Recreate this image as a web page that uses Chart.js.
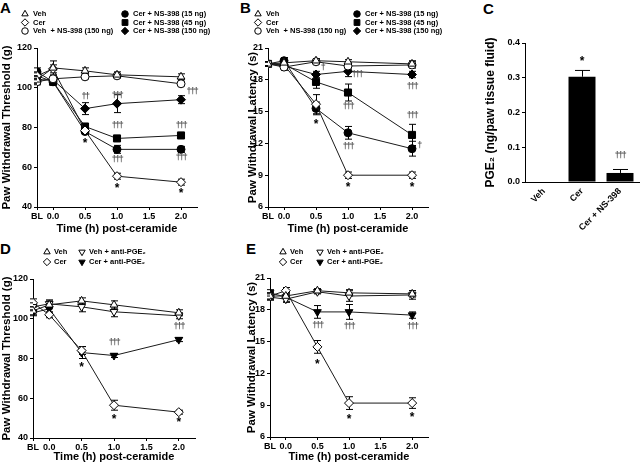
<!DOCTYPE html>
<html>
<head>
<meta charset="utf-8">
<script src="https://cdn.jsdelivr.net/npm/chart.js@4.4.0/dist/chart.umd.min.js"></script>
<style>
  body { margin: 0; width: 640px; height: 464px; background: #fff; position: relative; overflow: hidden;
         font-family: "Liberation Sans", Arial, sans-serif; }
  canvas { position: absolute; }
  .letter { position: absolute; font-weight: bold; font-size: 15px; line-height: 15px; color: #000; }
</style>
</head>
<body>
<div class="letter" style="left:0px;top:0px">A</div>
<div class="letter" style="left:240px;top:0px">B</div>
<div class="letter" style="left:483px;top:1px">C</div>
<div class="letter" style="left:0px;top:241px">D</div>
<div class="letter" style="left:246px;top:241px">E</div>

<canvas id="chartA" width="212" height="240" style="left:0px;top:0px"></canvas>
<canvas id="chartB" width="238" height="240" style="left:210px;top:0px"></canvas>
<canvas id="chartC" width="190" height="240" style="left:450px;top:0px"></canvas>
<canvas id="chartD" width="212" height="232" style="left:0px;top:232px"></canvas>
<canvas id="chartE" width="230" height="232" style="left:210px;top:232px"></canvas>

<script>
// time axis (BL = baseline, drawn just left of 0.0)
const timeTicks = [-0.25, 0, 0.5, 1, 1.5, 2];
const timeLabels = ['BL', '0.0', '0.5', '1.0', '1.5', '2.0'];
const timePoints = [-0.25, 0, 0.5, 1, 2];

// Panel A - paw withdrawal threshold (g), NS-398
const aVeh = [104, 110, 108.5, 106.5, 105.5];
const aVehSem = [2, 3.5, 1.5, 1.5, 1.5];
const aCer = [106, 109.5, 78.5, 55.5, 52.5];
const aCerSem = [2, 2, 1.5, 1.5, 1.5];
const aVehNS = [103, 104.5, 105.5, 106, 102];
const aVehNSSem = [1.5, 1.5, 1, 1, 1];
const aCerNS15 = [108, 103, 78, 69, 69];
const aCerNS15Sem = [2, 1.5, 1.5, 2, 1.5];
const aCerNS45 = [106, 103, 80.5, 74.5, 76];
const aCerNS45Sem = [1.5, 1.5, 1.5, 1, 1];
const aCerNS150 = [104, 104, 89.5, 92, 94];
const aCerNS150Sem = [1.5, 1.5, 3, 4.5, 2];
const aMarks = [[0.5, 95.5, '††'], [1.0, 96, '†††'], [2.17, 98, '†††'], [1.0, 81, '†††'], [2.0, 81, '†††'],
                [0.5, 73.5, '*'], [1.0, 64, '†††'], [2.0, 65, '†††'], [1.0, 50.5, '*'], [2.0, 48, '*']];

// Panel B - paw withdrawal latency (s), NS-398
const bVeh = [19.5, 19.6, 19.8, 19.7, 19.5];
const bVehSem = [0.2, 0.2, 0.2, 0.2, 0.3];
const bCer = [19.5, 19.4, 15.7, 9.0, 9.0];
const bCerSem = [0.2, 0.3, 0.9, 0.3, 0.3];
const bVehNS = [19.5, 19.2, 19.7, 19.3, 19.4];
const bVehNSSem = [0.2, 0.3, 0.2, 0.3, 0.3];
const bCerNS15 = [19.5, 19.8, 15.3, 13.0, 11.5];
const bCerNS15Sem = [0.2, 0.3, 0.6, 0.6, 0.7];
const bCerNS45 = [19.5, 19.5, 17.8, 16.8, 12.8];
const bCerNS45Sem = [0.2, 0.3, 0.6, 0.8, 1.0];
const bCerNS150 = [19.5, 19.3, 18.5, 18.8, 18.5];
const bCerNS150Sem = [0.2, 0.3, 0.3, 0.5, 0.3];
const bMarks = [[0.6, 19.2, '†'], [1.14, 18.5, '†††'], [2.0, 17.4, '†††'], [0.5, 14, '*'], [1.0, 15.5, '†††'],
                [1.0, 11.7, '†††'], [2.0, 14.6, '†††'], [2.11, 11.8, '†'], [1.0, 8.1, '*'], [2.0, 8.1, '*']];

// Panel C - PGE2 in paw tissue fluid
const cCats = ['Veh', 'Cer', 'Cer + NS-398'];
const cValues = [0, 0.303, 0.026];
const cSem = [0, 0.018, 0.01];
const cMarks = [[1, 0.355, '*'], [2, 0.075, '†††']];

// Panel D - threshold (g), anti-PGE2
const dVeh = [104, 107, 109, 107, 103];
const dVehSem = [2, 2, 1.5, 2, 1.5];
const dCer = [108, 102, 84, 56.5, 53];
const dCerSem = [2, 1.5, 2, 2.5, 1];
const dVehAnti = [106, 107.5, 106, 103.5, 101.5];
const dVehAntiSem = [2, 2, 2.5, 2.5, 1.5];
const dCerAnti = [103, 105, 83, 81.5, 89.5];
const dCerAntiSem = [1.5, 2, 3, 1, 1];
const dMarks = [[0.5, 77, '*'], [1.0, 88, '†††'], [2.0, 96, '†††'], [1.0, 50.5, '*'], [2.0, 49, '*']];

// Panel E - latency (s), anti-PGE2
const eVeh = [19.3, 19.3, 19.8, 19.6, 19.5];
const eVehSem = [0.3, 0.3, 0.2, 0.3, 0.3];
const eCer = [19.3, 19.8, 14.5, 9.2, 9.2];
const eCerSem = [0.3, 0.3, 0.6, 0.6, 0.5];
const eVehAnti = [19.2, 19.0, 19.7, 19.3, 19.4];
const eVehAntiSem = [0.3, 0.3, 0.2, 0.5, 0.4];
const eCerAnti = [19.6, 19.2, 17.8, 17.8, 17.5];
const eCerAntiSem = [0.3, 0.4, 0.6, 0.7, 0.3];
const eMarks = [[0.5, 16.5, '†††'], [1.0, 16.4, '†††'], [2.0, 16.4, '†††'], [0.5, 13.1, '*'], [1.0, 7.9, '*'], [2.0, 8.1, '*']];

const FONT = '"Liberation Sans", Arial, Helvetica, sans-serif';
const bold = size => ({ family: FONT, size: size, weight: 'bold' });

const SHAPES = {
  tri: { style: 'triangle', rot: 0, r: 4.5 },
  triDown: { style: 'triangle', rot: 180, r: 4.5 },
  dia: { style: 'rectRot', rot: 0, r: 4.5 },
  circ: { style: 'circle', rot: 0, r: 4 },
  sq: { style: 'rect', rot: 0, r: 5 }
};

function line(label, values, sem, shape, filled, col, row) {
  const s = SHAPES[shape];
  return {
    label: label,
    data: values.map((v, i) => ({ x: timePoints[i], y: v })),
    sem: sem,
    pointStyle: s.style, pointRotation: s.rot, pointRadius: s.r,
    pointBackgroundColor: filled ? '#000' : '#fff',
    pointBorderColor: '#000', pointBorderWidth: 1,
    borderColor: '#1a1a1a', borderWidth: 1, tension: 0,
    legendCol: col, legendRow: row
  };
}

function drawErrorBars(chart) {
  const ctx = chart.ctx;
  const ys = chart.scales.y;
  const isBar = chart.config.type === 'bar';
  ctx.save();
  ctx.strokeStyle = '#000';
  ctx.lineWidth = 1;
  chart.data.datasets.forEach((ds, di) => {
    if (!ds.sem) return;
    const meta = chart.getDatasetMeta(di);
    meta.data.forEach((el, i) => {
      const s = ds.sem[i];
      if (!s) return;
      const v = isBar ? ds.data[i] : ds.data[i].y;
      const x = Math.round(el.x) + 0.5;
      const top = ys.getPixelForValue(v + s);
      const bot = isBar ? ys.getPixelForValue(v) : ys.getPixelForValue(v - s);
      const cap = isBar ? 7.5 : 3.5;
      ctx.beginPath();
      ctx.moveTo(x, top); ctx.lineTo(x, bot);
      ctx.moveTo(x - cap, top); ctx.lineTo(x + cap, top);
      if (!isBar) { ctx.moveTo(x - cap, bot); ctx.lineTo(x + cap, bot); }
      ctx.stroke();
    });
  });
  ctx.restore();
}

const extras = {
  id: 'extras',
  beforeDatasetsDraw(chart) {
    if (chart.config.type !== 'bar') drawErrorBars(chart);
  },
  afterDatasetsDraw(chart) {
    if (chart.config.type === 'bar') drawErrorBars(chart);
  },
  afterDraw(chart, args, opts) {
    const ctx = chart.ctx;
    ctx.save();
    // legend
    if (opts.cols) {
      chart.data.datasets.forEach(ds => {
        if (ds.legendCol === undefined) return;
        const x = opts.cols[ds.legendCol], y = opts.rows[ds.legendRow];
        ctx.fillStyle = ds.pointBackgroundColor;
        ctx.strokeStyle = '#000';
        ctx.lineWidth = 1;
        Chart.helpers.drawPoint(ctx, { pointStyle: ds.pointStyle, rotation: ds.pointRotation,
          radius: ds.pointRadius * 0.82, borderWidth: 1 }, x, y);
        ctx.fillStyle = '#000';
        ctx.font = 'bold 7.5px ' + FONT;
        ctx.textAlign = 'left';
        ctx.textBaseline = 'middle';
        ctx.fillText(ds.label, x + opts.gap, y);
      });
    }
    // significance marks
    (opts.marks || []).forEach(m => {
      const px = chart.scales.x.getPixelForValue(m[0]);
      const py = chart.scales.y.getPixelForValue(m[1]);
      ctx.textAlign = 'center';
      ctx.textBaseline = 'middle';
      if (m[2] === '*') {
        ctx.font = 'bold 12px ' + FONT;
        ctx.fillStyle = '#000';
        ctx.letterSpacing = '0px';
        ctx.fillText('*', px, py + 2.8);
      } else {
        ctx.font = 'bold 9px ' + FONT;
        ctx.fillStyle = '#555';
        ctx.letterSpacing = '-1.5px';
        ctx.fillText(m[2], px, py);
      }
    });
    ctx.restore();
  }
};

function timeScales(p) {
  return {
    x: {
      type: 'linear', min: -0.25, max: 2.25,
      afterBuildTicks: s => { s.ticks = timeTicks.map(v => ({ value: v })); },
      ticks: { autoSkip: false, maxRotation: 0, padding: 1, color: '#000', font: bold(9),
               callback: v => timeLabels[timeTicks.indexOf(v)] },
      grid: { drawOnChartArea: false, tickLength: 3, color: '#000' },
      border: { color: '#000', width: 1 },
      title: { display: true, text: 'Time (h) post-ceramide', color: '#000', font: bold(11),
               padding: { top: 0, bottom: p.xTitlePad } },
      afterFit: s => { s.height = p.xHeight; }
    },
    y: {
      min: p.yMin, max: p.yMax,
      ticks: { stepSize: p.yStep, padding: 2, color: '#000', font: bold(9) },
      grid: { drawOnChartArea: false, tickLength: 3, color: '#000' },
      border: { color: '#000', width: 1 },
      title: { display: true, text: p.yTitle, color: '#000', font: bold(11.5),
               padding: { top: p.yTitlePad, bottom: 0 } },
      afterFit: s => { s.width = p.yWidth; }
    }
  };
}

function lineChart(id, datasets, p, legend, marks) {
  return new Chart(document.getElementById(id), {
    type: 'line',
    data: { datasets: datasets },
    options: {
      responsive: false, animation: false, events: [],
      layout: { padding: { top: p.top, right: p.right, bottom: 0, left: 0 } },
      scales: timeScales(p),
      plugins: {
        legend: { display: false }, tooltip: { enabled: false },
        extras: { cols: legend.cols, rows: legend.rows, gap: legend.gap, marks: marks }
      }
    },
    plugins: [extras]
  });
}

// A
lineChart('chartA', [
  line('Veh', aVeh, aVehSem, 'tri', false, 0, 0),
  line('Veh  + NS-398 (150 ng)', aVehNS, aVehNSSem, 'circ', false, 0, 2),
  line('Cer', aCer, aCerSem, 'dia', false, 0, 1),
  line('Cer + NS-398 (150 ng)', aCerNS150, aCerNS150Sem, 'dia', true, 1, 2),
  line('Cer + NS-398 (45 ng)', aCerNS45, aCerNS45Sem, 'sq', true, 1, 1),
  line('Cer + NS-398 (15 ng)', aCerNS15, aCerNS15Sem, 'circ', true, 1, 0)
], { top: 48, right: 15, yWidth: 37, yTitlePad: 0, xHeight: 33, xTitlePad: 4,
     yMin: 40, yMax: 120, yStep: 20, yTitle: 'Paw Withdrawal Threshold (g)' },
   { cols: [25, 125], rows: [14, 22.5, 31], gap: 8 }, aMarks);

// B
lineChart('chartB', [
  line('Veh', bVeh, bVehSem, 'tri', false, 0, 0),
  line('Veh  + NS-398 (150 ng)', bVehNS, bVehNSSem, 'circ', false, 0, 2),
  line('Cer', bCer, bCerSem, 'dia', false, 0, 1),
  line('Cer + NS-398 (150 ng)', bCerNS150, bCerNS150Sem, 'dia', true, 1, 2),
  line('Cer + NS-398 (45 ng)', bCerNS45, bCerNS45Sem, 'sq', true, 1, 1),
  line('Cer + NS-398 (15 ng)', bCerNS15, bCerNS15Sem, 'circ', true, 1, 0)
], { top: 48, right: 20, yWidth: 58, yTitlePad: 36, xHeight: 33, xTitlePad: 4,
     yMin: 6, yMax: 21, yStep: 3, yTitle: 'Paw Withdrawal Latency (s)' },
   { cols: [48, 147], rows: [14, 22.5, 31], gap: 8 }, bMarks);

// C
new Chart(document.getElementById('chartC'), {
  type: 'bar',
  data: { labels: cCats, datasets: [{ data: cValues, sem: cSem, backgroundColor: '#000',
          barPercentage: 0.71, categoryPercentage: 1 }] },
  options: {
    responsive: false, animation: false, events: [],
    layout: { padding: { top: 43, right: 1, bottom: 0, left: 0 } },
    scales: {
      x: {
        ticks: { autoSkip: false, minRotation: 45, maxRotation: 45, padding: 4, color: '#000', font: bold(9) },
        grid: { drawOnChartArea: false, drawTicks: false },
        border: { color: '#000', width: 1 },
        afterFit: s => { s.height = 58; }
      },
      y: {
        min: 0, max: 0.4,
        ticks: { stepSize: 0.1, padding: 2, color: '#000', font: bold(9), callback: v => v.toFixed(1) },
        grid: { drawOnChartArea: false, tickLength: 3, color: '#000' },
        border: { color: '#000', width: 1 },
        title: { display: true, text: 'PGE₂ (ng/paw tissue fluid)', color: '#000', font: bold(12),
                 padding: { top: 33, bottom: 0 } },
        afterFit: s => { s.width = 75; }
      }
    },
    plugins: { legend: { display: false }, tooltip: { enabled: false }, extras: { marks: cMarks } }
  },
  plugins: [extras]
});

// D
lineChart('chartD', [
  line('Veh', dVeh, dVehSem, 'tri', false, 0, 0),
  line('Veh + anti-PGE₂', dVehAnti, dVehAntiSem, 'triDown', false, 1, 0),
  line('Cer', dCer, dCerSem, 'dia', false, 0, 1),
  line('Cer + anti-PGE₂', dCerAnti, dCerAntiSem, 'triDown', true, 1, 1)
], { top: 47, right: 17, yWidth: 33, yTitlePad: 0, xHeight: 26, xTitlePad: 0,
     yMin: 40, yMax: 120, yStep: 20, yTitle: 'Paw Withdrawal Threshold (g)' },
   { cols: [47, 82], rows: [20, 30], gap: 7 }, dMarks);

// E
lineChart('chartE', [
  line('Veh', eVeh, eVehSem, 'tri', false, 0, 0),
  line('Veh + anti-PGE₂', eVehAnti, eVehAntiSem, 'triDown', false, 1, 0),
  line('Cer', eCer, eCerSem, 'dia', false, 0, 1),
  line('Cer + anti-PGE₂', eCerAnti, eCerAntiSem, 'triDown', true, 1, 1)
], { top: 46, right: 12, yWidth: 60, yTitlePad: 35, xHeight: 27, xTitlePad: 0,
     yMin: 6, yMax: 21, yStep: 3, yTitle: 'Paw Withdrawal Latency (s)' },
   { cols: [73, 110], rows: [20, 30], gap: 7 }, eMarks);
</script>
</body>
</html>
